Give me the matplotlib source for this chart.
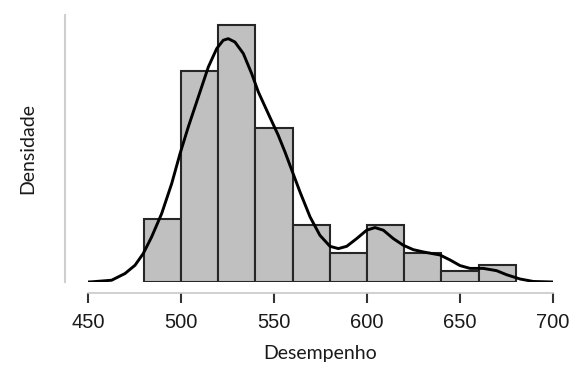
import numpy as np
import matplotlib
matplotlib.use('Agg')
import matplotlib.pyplot as plt

# histogram bins (Desempenho) and counts per bin
bin_edges = [480, 500, 520, 540, 560, 580, 600, 620, 640, 660, 680]
counts = [11, 37, 45, 27, 10, 5, 10, 5, 2, 3]

# density curve (x, density*1000)
curve_x = [450, 452.0, 462.7, 469.9, 475.3, 479.7, 484.2, 489.6, 495.0, 499.5,
           503.9, 509.3, 514.7, 519.2, 522.7, 525.4, 529.0, 533.5, 538.0,
           541.6, 546.9, 552.3, 555.9, 558.6, 564.0, 569.4, 574.7, 580.1,
           584.6, 589.1, 594.5, 599.8, 604.3, 608.8, 614.1, 619.5, 624.9,
           630.3, 639.2, 644.6, 650.0, 655.4, 662.5, 669.7, 675.1, 682.3,
           689.4, 700]
curve_y = [0, 0.01, 0.10, 0.48, 0.95, 1.61, 2.55, 3.87, 5.57, 7.27,
           8.77, 10.47, 12.17, 13.21, 13.68, 13.77, 13.58, 12.93, 11.79,
           10.75, 9.53, 8.30, 7.36, 6.60, 5.09, 3.68, 2.64, 2.02,
           1.89, 2.02, 2.46, 2.93, 3.08, 2.93, 2.46, 2.08, 1.83,
           1.70, 1.53, 1.25, 0.93, 0.77, 0.77, 0.64, 0.41, 0.17,
           0.03, 0]
curve_y = [v / 1000 for v in curve_y]

xticks = [450, 500, 550, 600, 650, 700]

fig = plt.figure(figsize=(5.72, 3.72), dpi=100)
ax = fig.add_axes([88/572, 1-282/372, (553-88)/572, (282-15)/372])

ax.hist(bin_edges[:-1], bins=bin_edges, weights=counts, density=True,
        color='#c0c0c0', edgecolor='#262626', linewidth=1.5)
ax.plot(curve_x, curve_y, color='black', lw=2.1, solid_capstyle='round',
        solid_joinstyle='round')

ax.set_xlim(450, 700)
ax.set_ylim(0, 0.01511)

for s in ['top', 'right']:
    ax.spines[s].set_visible(False)
ax.spines['left'].set_position(('outward', 16.6))
ax.spines['left'].set_color('#cfcfcf')
ax.spines['left'].set_linewidth(1.5)
ax.spines['bottom'].set_position(('outward', 7.9))
ax.spines['bottom'].set_bounds(450, 700)
ax.spines['bottom'].set_color('#c8c8c8')
ax.spines['bottom'].set_linewidth(1.2)

ax.set_yticks([])
ax.set_xticks(xticks)
ax.tick_params(axis='x', length=7.2, width=1.5, color='#333333', pad=7.5,
               labelsize=14.5, labelcolor='#1a1a1a')
for lab in ax.get_xticklabels():
    lab.set_family('Liberation Sans')

ax.set_xlabel('Desempenho', fontsize=14, family='Lato', color='#1a1a1a', labelpad=9)
ax.set_ylabel('Densidade', fontsize=14, family='Lato', color='#1a1a1a', labelpad=21)

fig.savefig('out.png', dpi=100)
